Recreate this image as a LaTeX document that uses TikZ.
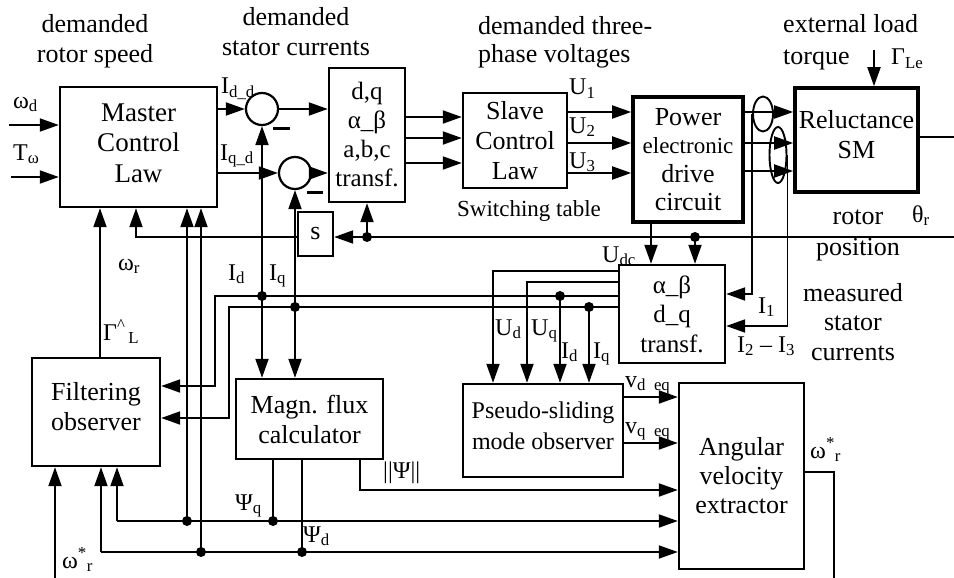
\documentclass[tikz,border=0pt]{standalone}
\usepackage{fontspec}
\setmainfont{Liberation Serif}
\usetikzlibrary{arrows.meta,shapes.geometric}
\newcommand\mainfs{\fontsize{26}{30}\selectfont}
\newcommand\lblfs{\fontsize{24}{28}\selectfont}
\newcommand\smfs{\fontsize{23}{28}\selectfont}
\newcommand\pfs{\fontsize{24}{31}\selectfont}
\newcommand\sbs[1]{\textsubscript{#1}}
\newcommand\sps[1]{\textsuperscript{#1}}
\begin{document}
\begin{tikzpicture}[x=1pt,y=-1pt,
  ln/.style={line width=1.9pt},
  arr/.style={line width=1.9pt,-{Triangle[length=19pt,width=13pt]}},
  box/.style={draw,line width=2.4pt,inner sep=0pt,align=center,font=\mainfs},
  tbox/.style={box,line width=3.6pt},
  sumc/.style={circle,draw,line width=2.2pt,minimum size=32pt,inner sep=0pt},
  ell/.style={ellipse,draw,line width=1.9pt,inner sep=0pt},
  lbl/.style={inner sep=0pt,anchor=base west,font=\lblfs},
  txt/.style={inner sep=0pt,anchor=base,font=\mainfs},
  txtl/.style={inner sep=0pt,anchor=base west,font=\mainfs},
  minus/.style={line width=3pt}]
\useasboundingbox (0,0) rectangle (954,578);
\fill[white] (0,0) rectangle (954,578);

% ---------- blocks ----------
\node[box,minimum width=157pt,minimum height=120pt,font=\fontsize{27}{30.5}\selectfont] (master) at (138.5,147) {Master\\Control\\Law\\[-22.5pt]};
\node[box,minimum width=76pt,minimum height=134pt,font=\fontsize{25}{29}\selectfont] (tr) at (367,135) {d,q\\α\_β\\a,b,c\\transf.};
\node[box,minimum width=104pt,minimum height=95pt] (slave) at (515,140.5) {Slave\\Control\\Law};
\node[tbox,minimum width=110pt,minimum height=125pt,font=\fontsize{26}{28.5}\selectfont] (power) at (688,159.5) {Power\\{\smfs electronic}\\drive\\circuit};
\node[tbox,minimum width=123pt,minimum height=104pt] (sm) at (856.5,140) {Reluctance\\SM\\[-18pt]};
\node[box,minimum width=35pt,minimum height=44pt] (s) at (315.5,234) {s};
\node[box,minimum width=106pt,minimum height=98pt,font=\fontsize{25}{29.5}\selectfont] (ab) at (672,314) {α\_β\\d\_q\\transf.};
\node[box,minimum width=128pt,minimum height=108pt] (filt) at (96,412) {Filtering\\observer\\[-18pt]};
\node[box,minimum width=147pt,minimum height=80pt] (magn) at (309.5,419) {Magn. flux\\calculator};
\node[box,minimum width=160pt,minimum height=93pt,font=\pfs] (pseudo) at (543,430.5) {Pseudo-sliding\\mode observer\\[-21pt]};
\node[box,minimum width=125pt,minimum height=186pt,font=\fontsize{26}{29}\selectfont] (ang) at (741.5,476) {Angular\\velocity\\extractor};
\node[sumc] (c1) at (262,109) {};
\node[sumc] (c2) at (295,173) {};
\node[ell,minimum width=20pt,minimum height=35pt] (e1) at (763,114) {};
\node[ell,minimum width=17pt,minimum height=56pt] (e2) at (778,155) {};

% ---------- coordinates ----------
\coordinate (wdin) at (9,125);
\coordinate (twin) at (11,177);
\coordinate (gle) at (874,50);
\coordinate (smout) at (954,137);
\coordinate (rot) at (954,237);
\coordinate (wr) at (136,237);
\coordinate (udc) at (651,0);
\coordinate (dA) at (tr.south |- rot);
\coordinate (dB) at (695,237);
\coordinate (ud) at (493,271);
\coordinate (uq) at (527,282);
\coordinate (idl) at (215,296);
\coordinate (iql) at (229,307);
\coordinate (dC) at (c1 |- idl);
\coordinate (dD) at (c2 |- iql);
\coordinate (dE) at (560,296);
\coordinate (dF) at (589,307);
\coordinate (psn) at (360,490);
\coordinate (dG) at (273,521);
\coordinate (pq) at (117,521);
\coordinate (dH) at (187,521);
\coordinate (dI) at (302,552);
\coordinate (pd) at (101,552);
\coordinate (dJ) at (201,552);
\coordinate (gl) at (100,0);
\coordinate (win) at (55,578);
\coordinate (wout) at (834,472);
\coordinate (wend) at (834,578);

% ---------- connectors ----------
\draw[arr] (wdin) -- (wdin -| master.west);
\draw[arr] (twin) -- (twin -| master.west);
\draw[arr] (master.east |- c1) -- (c1.west);
\draw[arr] (master.east |- c2) -- (c2.west);
\draw[arr] (c1.east) -- (c1.east -| tr.west);
\draw[arr] (c2.east) -- (c2.east -| tr.west);
\draw[minus] (273,128) -- (290,128);
\draw[minus] (307,192) -- (323,192);
\foreach \y in {117,138,163} \draw[arr] (tr.east |- 0,\y) -- (slave.west |- 0,\y);
\foreach \y in {112,143,173} \draw[arr] (slave.east |- 0,\y) -- (power.west |- 0,\y);
\foreach \y in {112,143,171} \draw[arr] (power.east |- 0,\y) -- (sm.west |- 0,\y);
\draw[arr] (gle) -- (gle |- sm.north);
\draw[ln] (sm.east |- smout) -- (smout);
% measured currents
\draw[arr] (e1.west) -- (e1.west |- 0,294) -- (ab.east |- 0,294);
\draw[arr] (e2.east) -- (e2.east |- 0,326) -- (ab.east |- 0,326);
% rotor position
\draw[arr] (rot) -- (rot -| s.east);
\draw[arr] (dA) -- (tr.south);
\draw[arr] (dB) -- (dB |- ab.north);
\draw[arr] (s.west |- rot) -- (wr) -- (wr |- master.south);
\draw[arr] (udc |- power.south) -- (udc |- ab.north);
% alpha-beta outputs
\draw[arr] (ab.west |- ud) -- (ud) -- (ud |- pseudo.north);
\draw[arr] (ab.west |- uq) -- (uq) -- (uq |- pseudo.north);
\draw[arr] (ab.west |- idl) -- (idl) -- (idl |- 0,386) -- (filt.east |- 0,386);
\draw[arr] (ab.west |- iql) -- (iql) -- (iql |- 0,418) -- (filt.east |- 0,418);
\draw[arr] (dC) -- (c1.south);
\draw[arr] (dC) -- (dC |- magn.north);
\draw[arr] (dD) -- (c2.south);
\draw[arr] (dD) -- (dD |- magn.north);
\draw[arr] (dE) -- (dE |- pseudo.north);
\draw[arr] (dF) -- (dF |- pseudo.north);
% observer outputs
\draw[arr] (pseudo.east |- 0,397) -- (ang.west |- 0,397);
\draw[arr] (pseudo.east |- 0,443) -- (ang.west |- 0,443);
\draw[arr] (psn |- magn.south) -- (psn) -- (psn -| ang.west);
\draw[ln] (dG |- magn.south) -- (dG);
\draw[arr] (pq) -- (pq -| ang.west);
\draw[arr] (pq) -- (pq |- filt.south);
\draw[arr] (dH) -- (dH |- master.south);
\draw[ln] (dI |- magn.south) -- (dI);
\draw[arr] (pd) -- (pd -| ang.west);
\draw[arr] (pd) -- (pd |- filt.south);
\draw[arr] (dJ) -- (dJ |- master.south);
\draw[arr] (gl |- filt.north) -- (gl |- master.south);
\draw[arr] (win) -- (win |- filt.south);
\draw[ln] (ang.east |- wout) -- (wout) -- (wend);
% junction dots
\foreach \p in {dA,dB,dC,dD,dE,dF,dG,dH,dI,dJ} \fill (\p) circle[radius=5pt];

% ---------- labels ----------
\node[txt] at (95,33) {demanded};
\node[txt] at (95,63) {rotor speed};
\node[txt] at (296,26) {demanded};
\node[txt] at (296,56) {stator currents};
\node[txtl] at (478,35) {demanded three-};
\node[txtl] at (478,63) {phase voltages};
\node[txtl] at (783,33) {external load};
\node[txtl] at (783,65) {torque};
\node[txt] at (858,224) {rotor};
\node[txt] at (858,255) {position};
\node[txt] at (853,301) {measured};
\node[txt] at (853,330) {stator};
\node[txt] at (853,360) {currents};
\node[inner sep=0pt,anchor=base west,font=\smfs] at (457,216) {Switching table};

\node[lbl] at (13,108) {ω\sbs{d}};
\node[lbl] at (13,160) {T\sbs{ω}};
\node[lbl] at (221,94) {I\sbs{d\_d}};
\node[lbl] at (220,160) {I\sbs{q\_d}};
\node[lbl] at (569,95) {U\sbs{1}};
\node[lbl] at (569,133) {U\sbs{2}};
\node[lbl] at (569,168) {U\sbs{3}};
\node[lbl] at (891,65) {Γ\sbs{Le}};
\node[lbl] at (912,222) {θ\sbs{r}};
\node[lbl] at (118,270) {ω\sbs{r}};
\node[lbl] at (228,280) {I\sbs{d}};
\node[lbl] at (269,280) {I\sbs{q}};
\node[lbl] at (103,340) {Γ\sps{\textasciicircum}\sbs{\,L}};
\node[lbl] at (602,262) {U\sbs{dc}};
\node[lbl] at (758,313) {I\sbs{1}};
\node[lbl] at (737,352) {I\sbs{2} – I\sbs{3}};
\node[lbl] at (495,335) {U\sbs{d}};
\node[lbl] at (531,335) {U\sbs{q}};
\node[lbl] at (561,358) {I\sbs{d}};
\node[lbl] at (593,358) {I\sbs{q}};
\node[lbl] at (625,387) {v\sbs{d~~eq}};
\node[lbl] at (625,433) {v\sbs{q~~eq}};
\node[lbl] at (383,478) {||Ψ||};
\node[lbl] at (235,510) {Ψ\sbs{q}};
\node[lbl] at (303,542) {Ψ\sbs{d}};
\node[lbl] at (62,568) {ω\sps{*}\sbs{r}};
\node[lbl] at (810,458) {ω\sps{*}\sbs{r}};
\end{tikzpicture}
\end{document}
